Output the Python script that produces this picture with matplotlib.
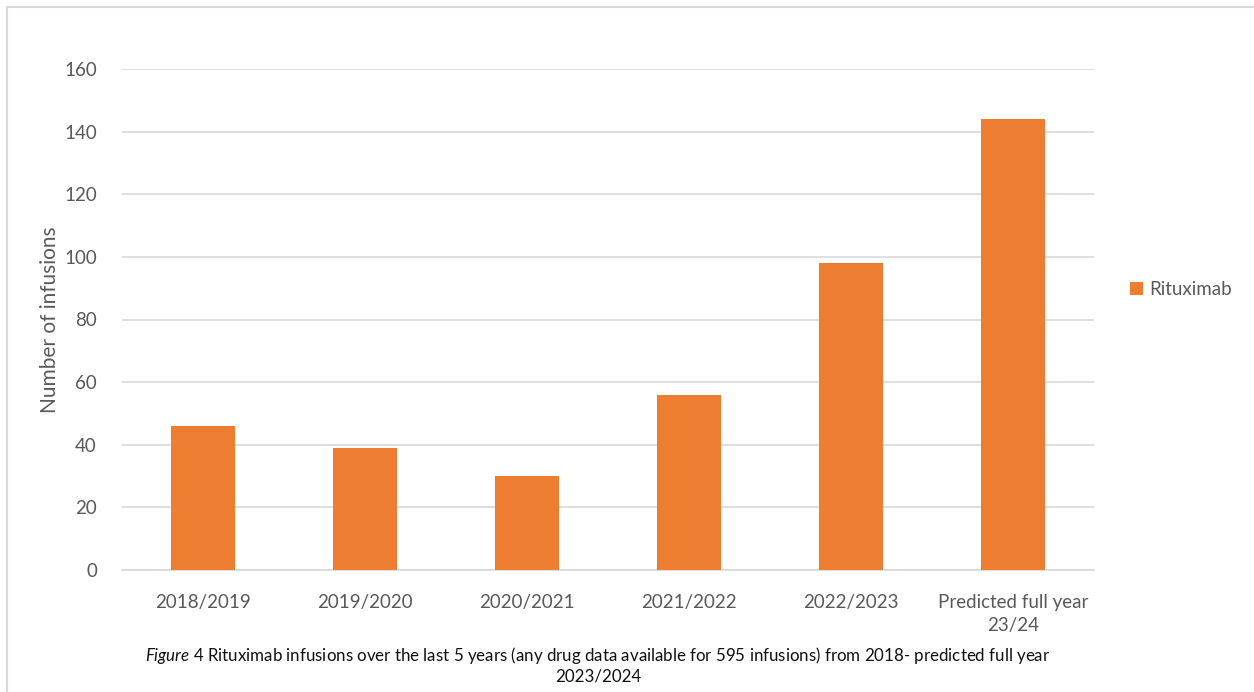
import matplotlib
matplotlib.use("Agg")
import matplotlib.pyplot as plt
from matplotlib.patches import Rectangle

# data
years = ["2018/2019", "2019/2020", "2020/2021", "2021/2022", "2022/2023", "Predicted full year\n23/24"]
infusions = [46, 39, 30, 56, 98, 144]
series_name = "Rituximab"

plt.rcParams['font.family'] = ['Lato', 'DejaVu Sans']
plt.rcParams['mathtext.fontset'] = 'custom'
plt.rcParams['mathtext.it'] = 'Lato:italic'
plt.rcParams['mathtext.rm'] = 'Lato'

fig = plt.figure(figsize=(12.54, 6.92), dpi=100)
ax = fig.add_axes([122 / 1254, 1 - 570 / 692, 972 / 1254, 501 / 692])

grey = "#595959"
ax.bar(range(len(years)), infusions, width=0.4, color="#ED7D31", label=series_name, zorder=3)
ax.set_xlim(-0.5, len(years) - 0.5)
ax.set_ylim(0, 160)
ax.set_yticks(range(0, 161, 20))
ax.set_xticks(range(len(years)))
ax.set_xticklabels(years, linespacing=1.45)
ax.tick_params(axis="both", length=0, colors=grey, labelsize=13.5)
ax.tick_params(axis="x", pad=17)
ax.tick_params(axis="y", pad=18)
ax.grid(axis="y", color="#d9d9d9", linewidth=1.2, zorder=0)
for s in ["top", "right", "left"]:
    ax.spines[s].set_visible(False)
ax.spines["bottom"].set_color("#d9d9d9")
ax.spines["bottom"].set_linewidth(1.2)
ax.set_ylabel("Number of infusions", fontsize=15, color=grey)
ax.yaxis.set_label_coords(-0.064, 0.5)

ax.legend(loc="center left", bbox_to_anchor=(1.02, 0.56), frameon=False, fontsize=13.5,
          handlelength=0.7, handleheight=0.7, handletextpad=0.3, labelcolor=grey)

# outer chart frame
fig.patches.append(Rectangle((7 / 1254, -0.1), 1.2, 1 - 7 / 692 + 0.1, transform=fig.transFigure,
                             fill=False, edgecolor="#d9d9d9", linewidth=1.5))

fig.text(0.477, 1 - 655 / 692,
         r"$\it{Figure\ 4}$ Rituximab infusions over the last 5 years (any drug data available for 595 infusions) from 2018- predicted full year",
         ha="center", va="center", fontsize=12.2, color="#111111")
fig.text(0.477, 1 - 677 / 692, "2023/2024", ha="center", va="center", fontsize=12.2, color="#111111")

fig.savefig("out.png", dpi=100)
